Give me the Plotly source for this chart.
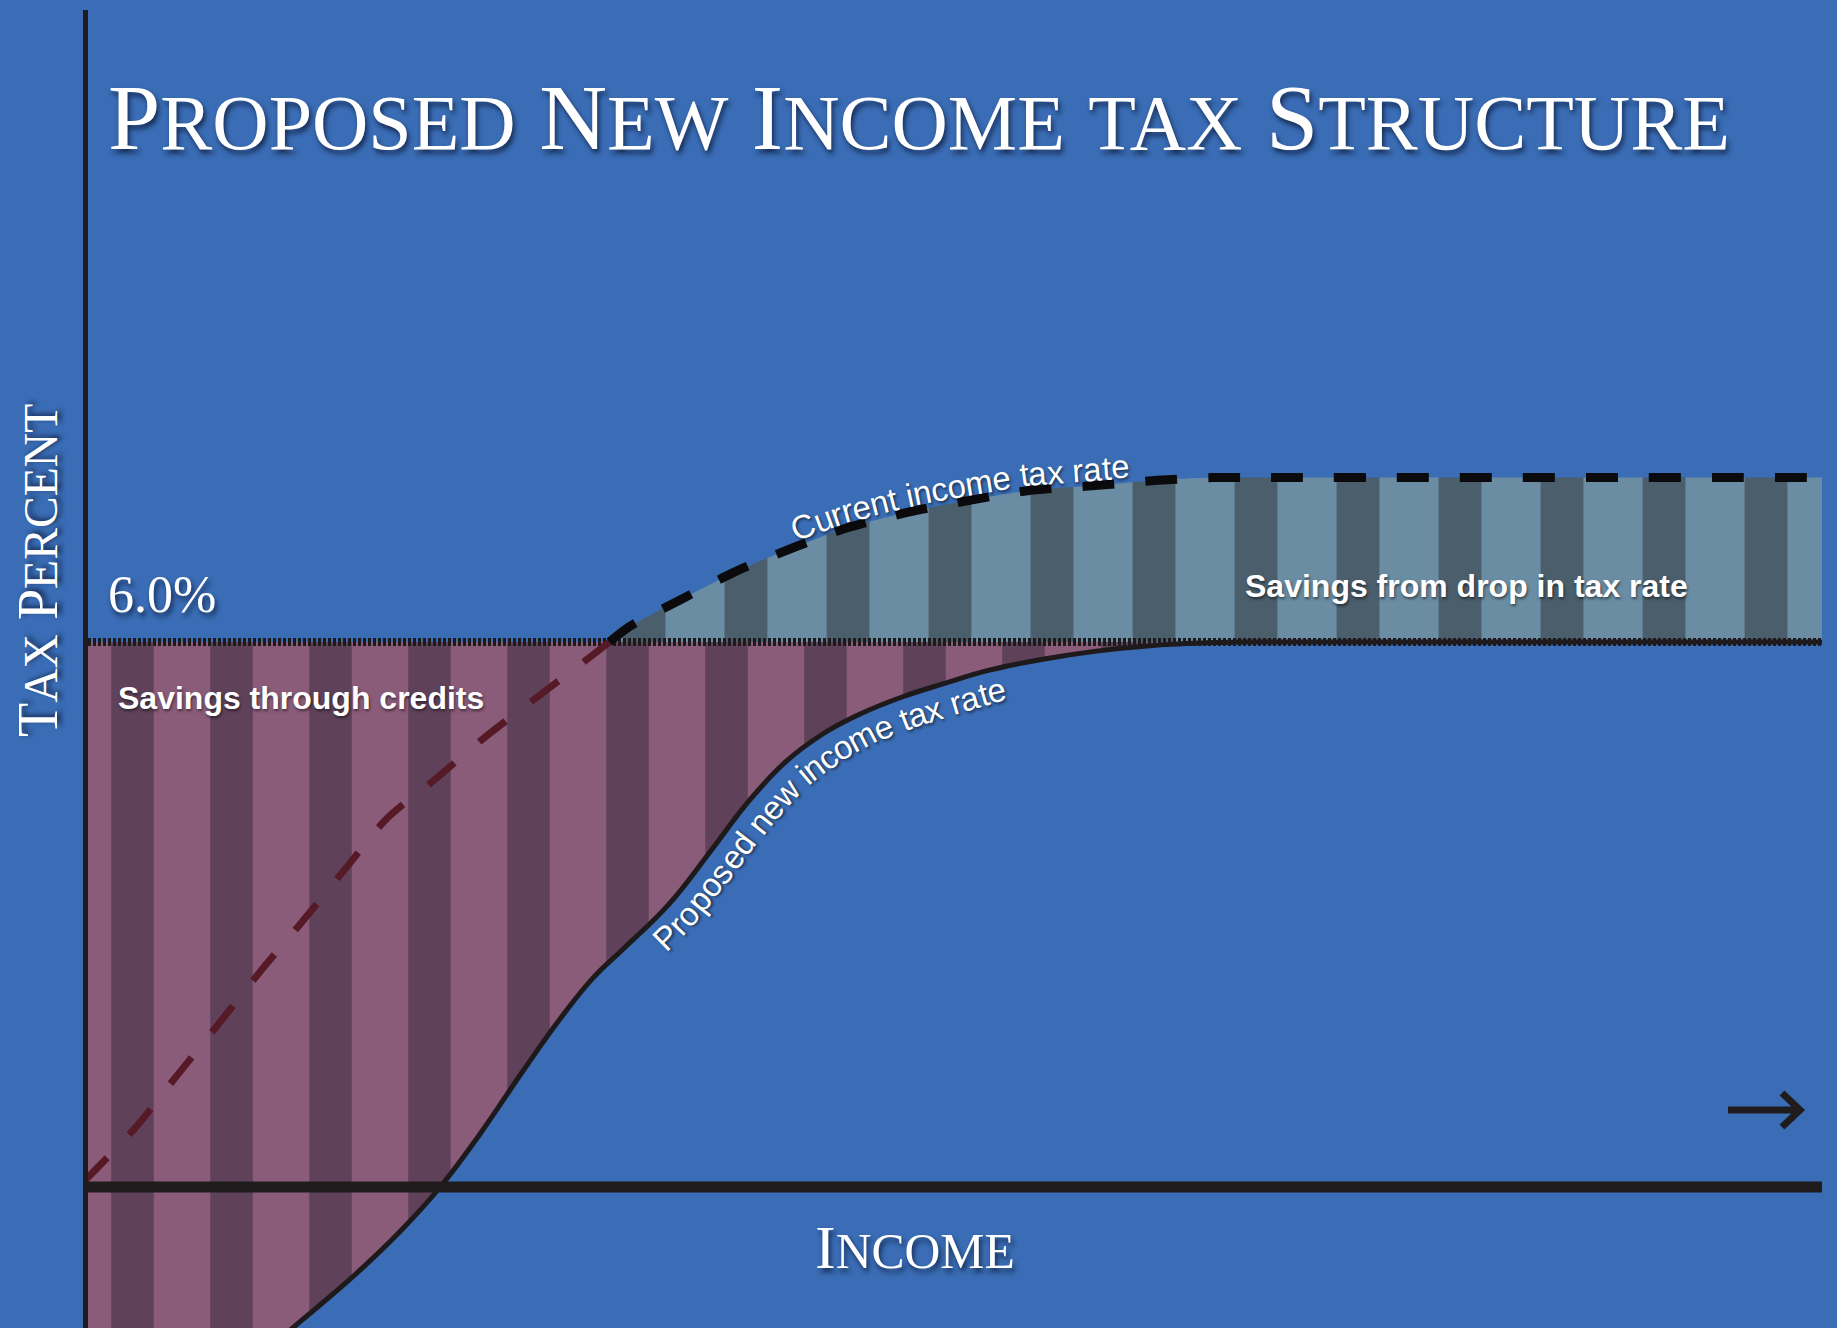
import math
import numpy as np
import plotly.graph_objects as go

# ---------------- data ----------------
income_proposed = [0, 4, 8, 12.5, 15.5, 18.23, 20.54, 22.85, 25.31, 27.47, 29.32, 31.17,
                   33.63, 36.10, 38.25, 40.40, 42.56, 44.72, 47.18, 49.64, 52.11, 55.19,
                   58.27, 61.35, 64.43, 67.0, 100]
rate_proposed = [-3.4, -2.8, -2.2, -1.48, -0.99, -0.49, 0.0, 0.59, 1.28, 1.86, 2.30, 2.64,
                 3.10, 3.70, 4.24, 4.68, 4.99, 5.21, 5.40, 5.55, 5.69, 5.81,
                 5.90, 5.96, 5.99, 6.0, 6.0]

income_current = [0, 2.95, 5.33, 7.73, 10.14, 12.60, 15.07, 17.49, 20.26, 22.97, 25.74,
                  28.58, 30.28, 31.43, 34.50, 37.57, 40.87, 43.82, 47.46, 50.98, 54.50,
                  58.02, 61.78, 64.96, 70, 100]
rate_current = [0.05, 0.64, 1.21, 1.78, 2.36, 2.92, 3.50, 4.06, 4.49, 4.93, 5.34,
                5.75, 6.00, 6.17, 6.48, 6.78, 7.04, 7.25, 7.43, 7.56, 7.67,
                7.72, 7.78, 7.81, 7.81, 7.81]

base_rate = 6.0
base_rate_label = "6.0%"

title_text = "Proposed New Income tax Structure"
y_title = "Tax Percent"
x_title = "Income"
label_credits = "Savings through credits"
label_drop = "Savings from drop in tax rate"
label_current = "Current income tax rate"
label_proposed = "Proposed new income tax rate"

# ---------------- styling ----------------
W, H = 1837, 1328
ML, MR, MT, MB = 83, 15, 10, 0
PW, PH = W - ML - MR, H - MT - MB
XR = [0, 100]
YR = [-1.552, 12.958]

BG = '#3a6db5'
PINK, PINK_DARK = '#8a5c79', '#5f4259'
SLATE, SLATE_DARK = '#6a8da3', '#4a5e6b'
INK = '#1e1a1c'
RED_DASH = '#561a26'
SHADOW = '2px 4px 5px rgba(10,20,50,0.75)'
SMOOTH = 1.2


def px_x(x):
    return ML + (np.asarray(x, float) - XR[0]) / (XR[1] - XR[0]) * PW


def px_y(y):
    return MT + (YR[1] - np.asarray(y, float)) / (YR[1] - YR[0]) * PH


def paper_x(X):
    return (X - ML) / PW


def paper_y(Y):
    return (H - MB - Y) / PH


def small_caps(text, size, ratio=0.83):
    out, buf = [], ''
    for ch in text:
        if ch.islower():
            buf += ch.upper()
        else:
            if buf:
                out.append(f'<span style="font-size:{size * ratio:.1f}px">{buf}</span>')
                buf = ''
            out.append(ch)
    if buf:
        out.append(f'<span style="font-size:{size * ratio:.1f}px">{buf}</span>')
    return ''.join(out)


# Arial / Liberation Sans advance widths (1/1000 em)
CW = {' ': 278, 'C': 722, 'P': 667, 'a': 556, 'c': 500, 'd': 556, 'e': 556, 'i': 222,
      'm': 833, 'n': 556, 'o': 556, 'p': 556, 'r': 333, 's': 500, 't': 278, 'u': 556,
      'w': 722, 'x': 500}


def arc_annotations(text, xs, ys, x_start, side, size, gap):
    """Place each character along a path offset from the curve (text-on-path)."""
    t = np.linspace(min(xs), max(xs), 6000)
    X = px_x(t)
    Y = px_y(np.interp(t, xs, ys))
    dX = np.gradient(X)
    dY = np.gradient(Y)
    kern = np.ones(61) / 61
    dX = np.convolve(dX, kern, mode='same')
    dY = np.convolve(dY, kern, mode='same')
    nrm = np.hypot(dX, dY)
    tx, ty = dX / nrm, dY / nrm
    nx, ny = ty, -tx
    off = gap + 0.3465 * size if side == 'above' else -(gap + 0.3695 * size)
    OX, OY = X + nx * off, Y + ny * off
    s = np.concatenate([[0], np.cumsum(np.hypot(np.diff(OX), np.diff(OY)))])
    i0 = int(np.argmin(np.abs(t - x_start)))
    pos = s[i0]
    anns = []
    for ch in text:
        w = CW.get(ch, 556) * size / 1000.0
        sc = pos + w / 2
        Xc, Yc = np.interp(sc, s, OX), np.interp(sc, s, OY)
        ax_, ay_ = np.interp(sc, s, tx), np.interp(sc, s, ty)
        ang = math.degrees(math.atan2(ay_, ax_))
        if ch.strip():
            anns.append(dict(xref='paper', yref='paper', x=paper_x(Xc), y=paper_y(Yc),
                             text=ch, textangle=ang, showarrow=False,
                             xanchor='center', yanchor='middle',
                             font=dict(family='Liberation Sans', size=size, color='white',
                                       shadow='1px 2px 3px rgba(0,0,0,0.6)')))
        pos += w
    return anns


fig = go.Figure()

# --- pink region: between base rate and proposed curve ---
x_lo, x_hi = min(income_proposed), max(income_proposed)
fig.add_trace(go.Scatter(x=[x_lo, x_hi], y=[base_rate, base_rate], mode='lines',
                         line=dict(width=0), hoverinfo='skip'))
fig.add_trace(go.Scatter(x=income_proposed, y=rate_proposed, mode='lines',
                         line=dict(width=0, shape='spline', smoothing=SMOOTH),
                         fill='tonexty', fillcolor=PINK,
                         fillpattern=dict(shape='|', size=99, solidity=0.43,
                                          fgcolor=PINK_DARK, bgcolor=PINK, fillmode='replace'),
                         hoverinfo='skip'))

# --- slate region: between base rate and current curve ---
k = next(i for i, r in enumerate(rate_current) if r >= base_rate)
cx_low, cy_low = income_current[:k + 1], rate_current[:k + 1]
cx_up, cy_up = income_current[k:], rate_current[k:]
fig.add_trace(go.Scatter(x=[cx_up[0], cx_up[-1]], y=[base_rate, base_rate], mode='lines',
                         line=dict(width=0), hoverinfo='skip'))
fig.add_trace(go.Scatter(x=cx_up, y=cy_up, mode='lines',
                         line=dict(width=0, shape='spline', smoothing=0.8),
                         fill='tonexty', fillcolor=SLATE,
                         fillpattern=dict(shape='|', size=102, solidity=0.42,
                                          fgcolor=SLATE_DARK, bgcolor=SLATE, fillmode='replace'),
                         hoverinfo='skip'))

# --- lines ---
fig.add_trace(go.Scatter(x=[x_lo, x_hi], y=[base_rate, base_rate], mode='lines',
                         line=dict(color=INK, width=8, dash='3px,2px'), hoverinfo='skip'))
fig.add_trace(go.Scatter(x=income_proposed, y=rate_proposed, mode='lines',
                         line=dict(color=INK, width=5, shape='spline', smoothing=SMOOTH),
                         hoverinfo='skip'))
fig.add_trace(go.Scatter(x=cx_low, y=cy_low, mode='lines',
                         line=dict(color=RED_DASH, width=7, dash='34px,32px',
                                   shape='spline', smoothing=0.8), hoverinfo='skip'))
fig.add_trace(go.Scatter(x=cx_up, y=cy_up, mode='lines',
                         line=dict(color='#0b0b0d', width=9, dash='32px,31px',
                                   shape='spline', smoothing=0.8), hoverinfo='skip'))

# --- axis lines & arrow (decoration) ---
shapes = [
    dict(type='line', xref='x', yref='paper', x0=XR[0], x1=XR[0], y0=0, y1=1,
         line=dict(color='#201c1e', width=10), layer='above'),
    dict(type='line', xref='x', yref='y', x0=XR[0], x1=x_hi, y0=0, y1=0,
         line=dict(color='#201c1e', width=11), layer='above'),
]
ax0, ax1, ay = 1728, 1800, 1110
arrow_path = (f'M{paper_x(ax0)},{paper_y(ay)} L{paper_x(ax1)},{paper_y(ay)} '
              f'M{paper_x(ax1 - 18)},{paper_y(ay - 17)} L{paper_x(ax1)},{paper_y(ay)} '
              f'L{paper_x(ax1 - 18)},{paper_y(ay + 17)}')
shapes.append(dict(type='path', xref='paper', yref='paper', path=arrow_path,
                   line=dict(color='#201c1e', width=7)))

# --- text ---
ann = []
TS = 94
ann.append(dict(xref='paper', yref='paper', x=paper_x(106), y=paper_y(117),
                xanchor='left', yanchor='middle', showarrow=False,
                text=small_caps(title_text, TS),
                font=dict(family='Liberation Serif', size=TS, color='white', shadow=SHADOW)))
YS = 56
ann.append(dict(xref='paper', yref='paper', x=paper_x(38), y=paper_y(571),
                xanchor='center', yanchor='middle', showarrow=False, textangle=-90,
                text=small_caps(y_title, YS, 0.85),
                font=dict(family='Liberation Serif', size=YS, color='white', shadow=SHADOW)))
XS = 62
ann.append(dict(xref='paper', yref='paper', x=paper_x(915), y=paper_y(1247),
                xanchor='center', yanchor='middle', showarrow=False,
                text=small_caps(x_title, XS, 0.8),
                font=dict(family='Liberation Serif', size=XS, color='white', shadow=SHADOW)))
ann.append(dict(xref='paper', yref='paper', x=paper_x(106), y=paper_y(595),
                xanchor='left', yanchor='middle', showarrow=False, text=base_rate_label,
                font=dict(family='Liberation Serif', size=52, color='white', shadow=SHADOW)))
ann.append(dict(xref='paper', yref='paper', x=paper_x(116), y=paper_y(698),
                xanchor='left', yanchor='middle', showarrow=False, text=label_credits,
                font=dict(family='Liberation Sans', size=32, color='white', weight='bold',
                          shadow='1px 2px 3px rgba(0,0,0,0.5)')))
ann.append(dict(xref='paper', yref='paper', x=paper_x(1243), y=paper_y(586),
                xanchor='left', yanchor='middle', showarrow=False, text=label_drop,
                font=dict(family='Liberation Sans', size=32, color='white', weight='bold',
                          shadow='1px 2px 3px rgba(0,0,0,0.5)')))

ann += arc_annotations(label_current, income_current, rate_current, 41.1, 'above', 33, 5)
ann += arc_annotations(label_proposed, income_proposed, rate_proposed, 32.2, 'below', 33, 9)

fig.update_layout(
    width=W, height=H,
    margin=dict(l=ML, r=MR, t=MT, b=MB, pad=0),
    paper_bgcolor=BG, plot_bgcolor=BG,
    showlegend=False,
    xaxis=dict(range=XR, visible=False, fixedrange=True),
    yaxis=dict(range=YR, visible=False, fixedrange=True),
    shapes=shapes, annotations=ann,
    hovermode=False,
)

fig.write_html("out.html", config={'displayModeBar': False})
